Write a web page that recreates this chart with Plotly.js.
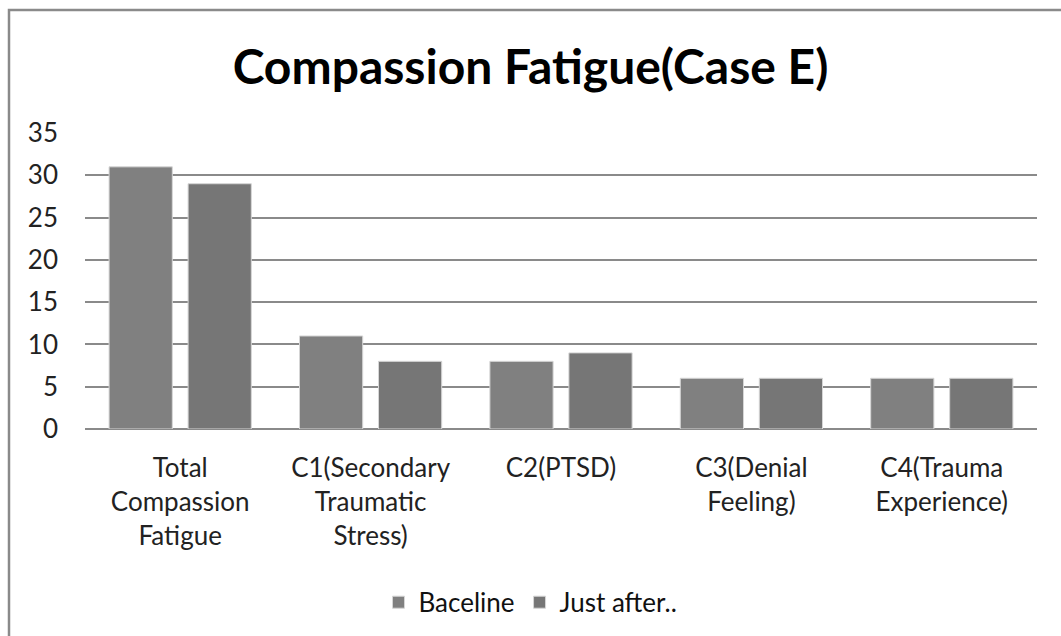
<!DOCTYPE html>
<html>
<head>
<meta charset="utf-8">
<script src="https://cdn.plot.ly/plotly-3.0.1.min.js"></script>
<style>
  html, body { margin: 0; padding: 0; background: #ffffff; }
  #chart { width: 1061px; height: 636px; }
</style>
</head>
<body>
<div id="chart"></div>
<script>
const categories = [
  "Total<br>Compassion<br>Fatigue",
  "C1(Secondary<br>Traumatic<br>Stress)",
  "C2(PTSD)",
  "C3(Denial<br>Feeling)",
  "C4(Trauma<br>Experience)"
];
const baseline = [31, 11, 8, 6, 6];
const justAfter = [29, 8, 9, 6, 6];
const seriesNames = ["Baceline", "Just after.."];
const yTicks = [0, 5, 10, 15, 20, 25, 30, 35];

const FONT = "Lato, 'Open Sans', sans-serif";

const traces = [
  {
    type: "bar", name: seriesNames[0], x: categories, y: baseline,
    marker: { color: "#808080", line: { color: "#d6d6d6", width: 1 } },
    hoverinfo: "y"
  },
  {
    type: "bar", name: seriesNames[1], x: categories, y: justAfter,
    marker: { color: "#767676", line: { color: "#d6d6d6", width: 1 } },
    hoverinfo: "y"
  }
];

const layout = {
  width: 1061, height: 636,
  paper_bgcolor: "#ffffff", plot_bgcolor: "#ffffff",
  font: { family: FONT, size: 26, color: "#222222" },
  margin: { l: 85, r: 24, t: 133, b: 207 },
  title: {
    text: "<b>Compassion Fatigue(Case E)</b>",
    font: { family: FONT, size: 48, color: "#000000" },
    x: 0.5, xref: "container", xanchor: "center",
    y: 0.895, yref: "container", yanchor: "middle"
  },
  barmode: "group",
  bargap: 0.17,
  bargroupgap: 0.2,
  xaxis: {
    showgrid: false, zeroline: false, showline: false,
    ticks: "", ticklabelstandoff: 21,
    tickfont: { family: FONT, size: 26, color: "#222222" },
    automargin: false
  },
  yaxis: {
    range: [0, 35], tickvals: yTicks, ticktext: yTicks.map(String),
    showgrid: true, gridcolor: "#8a8a8a", gridwidth: 2,
    zeroline: true, zerolinecolor: "#8a8a8a", zerolinewidth: 2,
    showline: false, ticks: "", ticklabelstandoff: 26,
    tickfont: { family: FONT, size: 26, color: "#222222" },
    automargin: false
  },
  showlegend: true,
  legend: {
    orientation: "h",
    x: 0.50, xref: "container", xanchor: "center",
    y: 0.053, yref: "container", yanchor: "middle",
    font: { family: FONT, size: 26, color: "#111111" },
    itemwidth: 30, tracegroupgap: 0
  },
  shapes: [
    {
      type: "rect", xref: "paper", yref: "paper",
      x0: (9 - 85) / 952, x1: 1.2,
      y0: -2, y1: (429 - 10) / 296,
      line: { color: "#8a8a8a", width: 2.5 },
      fillcolor: "rgba(0,0,0,0)", layer: "below"
    }
  ]
};

Plotly.newPlot("chart", traces, layout, { displayModeBar: false, staticPlot: true });
</script>
</body>
</html>
